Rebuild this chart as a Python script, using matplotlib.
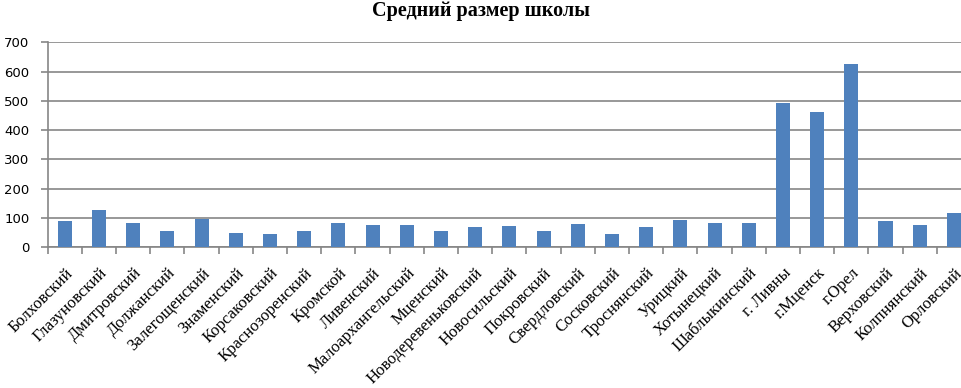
import numpy as np
import matplotlib.pyplot as plt

# datos
rayones = ['Болховский', 'Глазуновский', 'Дмитровский', 'Должанский', 'Залегощенский',
           'Знаменский', 'Корсаковский', 'Краснозоренский', 'Кромской', 'Ливенский',
           'Малоархангельский', 'Мценский', 'Новодеревеньковский', 'Новосильский',
           'Покровский', 'Свердловский', 'Сосковский', 'Троснянский', 'Урицкий',
           'Хотынецкий', 'Шаблыкинский', 'г. Ливны', 'г.Мценск', 'г.Орел',
           'Верховский', 'Колпнянский', 'Орловский']
razmer = [89, 126, 82, 55, 97, 48, 44, 55, 82, 75, 75, 55, 68, 72, 55, 79, 44, 68,
          92, 82, 82, 492, 461, 626, 89, 75, 116]
yticks = [0, 100, 200, 300, 400, 500, 600, 700]

fig = plt.figure(figsize=(9.61, 3.88), dpi=100)
ax = fig.add_axes([0.0496, 0.3634, 0.9608, 0.5276])

x = np.arange(len(rayones))
ax.bar(x, razmer, width=0.41, color='#4F81BD', zorder=3)

ax.set_xlim(-0.5, len(rayones) - 0.5)
ax.set_ylim(0, 700)
ax.set_yticks(yticks)
ax.set_yticklabels([str(v) for v in yticks], fontsize=9.5, family='DejaVu Sans')
ax.yaxis.grid(True, color='#868686', linewidth=1.2, zorder=0)

# marcas entre categorias
ax.set_xticks(np.arange(len(rayones) + 1) - 0.5)
ax.set_xticklabels([])
ax.set_xticks(x, minor=True)
ax.set_xticklabels(rayones, minor=True, rotation=45, ha='right', va='top',
                   rotation_mode='anchor', fontsize=12, family='Liberation Serif')
ax.tick_params(axis='x', which='minor', length=0, pad=13)
ax.tick_params(axis='x', which='major', length=5, color='#868686', width=1.2)
ax.tick_params(axis='y', length=5, color='#868686', width=1.2, pad=8)

for s in ['top', 'right']:
    ax.spines[s].set_visible(False)
for s in ['left', 'bottom']:
    ax.spines[s].set_color('#868686')
    ax.spines[s].set_linewidth(1.2)

fig.text(0.5, 0.997, 'Средний размер школы', ha='center', va='top',
         fontsize=14.5, fontweight='bold', family='Liberation Serif')

fig.savefig('out.png', dpi=100)
